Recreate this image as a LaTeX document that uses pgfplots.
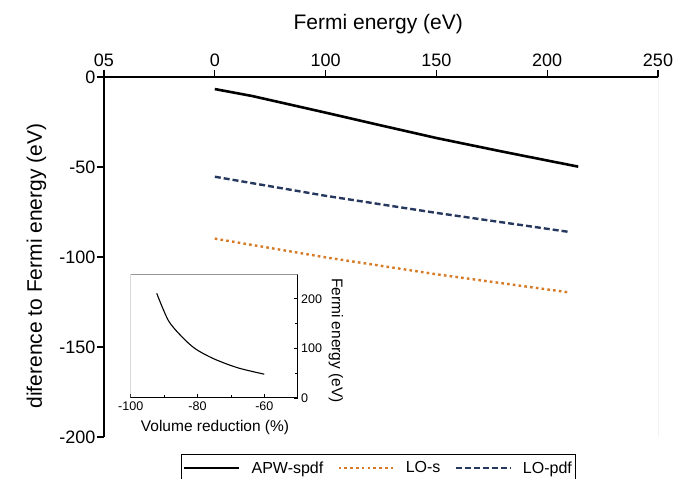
\documentclass[border=0pt]{standalone}
\usepackage{fontspec}
\setmainfont{Liberation Sans}
\usepackage{pgfplots}
\pgfplotsset{compat=1.18}
\definecolor{loorange}{RGB}{214,122,38}
\definecolor{lonavy}{RGB}{38,56,94}
\definecolor{framegrey}{RGB}{150,150,150}

\begin{document}
\begin{tikzpicture}
    \begin{axis}[
            name=main,
            at={(104pt,42pt)}, anchor=south west,
            width=554pt, height=360pt, scale only axis,
            xmin=0, xmax=250, ymin=-200, ymax=0,
            axis x line*=top, axis y line*=left,
            axis line style={line width=1.3pt, black},
            xtick={0,50,100,150,200,250},
            xticklabels={05,0,100,150,200,250},
            ytick={0,-50,-100,-150,-200},
            yticklabels={0,-50,-100,-150,-200},
            tick align=outside, major tick length=7pt,
            tick style={line width=1.3pt, black},
            ticklabel style={font=\fontsize{18}{21}\selectfont},
            yticklabel style={xshift=2pt},
            every axis x label/.style={at={(axis description cs:0.495,1.1306)}, anchor=base},
            every axis y label/.style={at={(axis description cs:-0.112,0.475)}, rotate=90, anchor=base},
            label style={font=\fontsize{21}{25}\selectfont},
            xlabel={Fermi energy (eV)},
            ylabel={diference to Fermi energy (eV)},
            legend columns=3,
            legend style={at={(0.4955,-0.047)}, anchor=north, draw=black, line width=1pt,
                font=\fontsize{16}{19}\selectfont, inner xsep=2pt, inner ysep=5pt,
                /tikz/every odd column/.append style={column sep=9pt},
                /tikz/every even column/.append style={column sep=12pt}},
            legend image code/.code={\draw[#1, line width=2.5pt] (0pt,0pt) -- (55pt,0pt);},
        ]
        \draw[framegrey, line width=0.9pt] (rel axis cs:1,1) -- (rel axis cs:1,0) -- (rel axis cs:0,0);
        \addplot[black, line width=2.6pt] coordinates {
            (50,-6.7) (67,-10.6) (100,-19.8) (125,-26.9) (150,-33.9) (180,-41.5) (214,-49.8)
        };
        \addlegendentry{APW-spdf}
        \addplot[loorange, line width=2.4pt, dash pattern=on 2.6pt off 3.2pt] coordinates {
            (50,-89.8) (100,-100.2) (150,-109.6) (210,-119.7)
        };
        \addlegendentry{LO-s}
        \addplot[lonavy, line width=2.4pt, dash pattern=on 6pt off 3pt] coordinates {
            (50,-55.4) (100,-66.0) (150,-75.5) (209.5,-86.0)
        };
        \addlegendentry{LO-pdf}
    \end{axis}
    \begin{axis}[
            at={(130.7pt,81pt)}, anchor=south west,
            width=167pt, height=124pt, scale only axis,
            xmin=-100, xmax=-50, ymin=0, ymax=250,
            axis x line*=bottom, axis y line*=right,
            axis line style={line width=1pt, black},
            xtick={-100,-80,-60}, xticklabels={-100,-80,-60},
            minor xtick={-90,-70,-50},
            ytick={0,100,200}, yticklabels={0,100,200},
            minor ytick={50,150},
            tick align=inside, major tick length=4pt, minor tick length=2.5pt,
            tick style={line width=0.8pt, black},
            ticklabel style={font=\fontsize{12.5}{15}\selectfont},
            every axis x label/.style={at={(axis description cs:0.505,-0.274)}, anchor=base},
            every axis y label/.style={at={(axis description cs:1.205,0.464)}, rotate=-90, anchor=base},
            label style={font=\fontsize{15.5}{18}\selectfont},
            xlabel={Volume reduction (\%)},
            ylabel={Fermi energy (eV)},
        ]
        \draw[framegrey, line width=0.8pt] (rel axis cs:0,0) -- (rel axis cs:0,1) -- (rel axis cs:1,1);
        \addplot[black, line width=1.1pt, smooth] coordinates {
            (-92.2,211) (-88.7,156) (-84.6,123) (-80.6,99) (-75.1,79) (-68,61) (-60,48)
        };
    \end{axis}
    \pgfresetboundingbox
    \useasboundingbox (0pt,0pt) rectangle (689pt,479pt);
\end{tikzpicture}
\end{document}
